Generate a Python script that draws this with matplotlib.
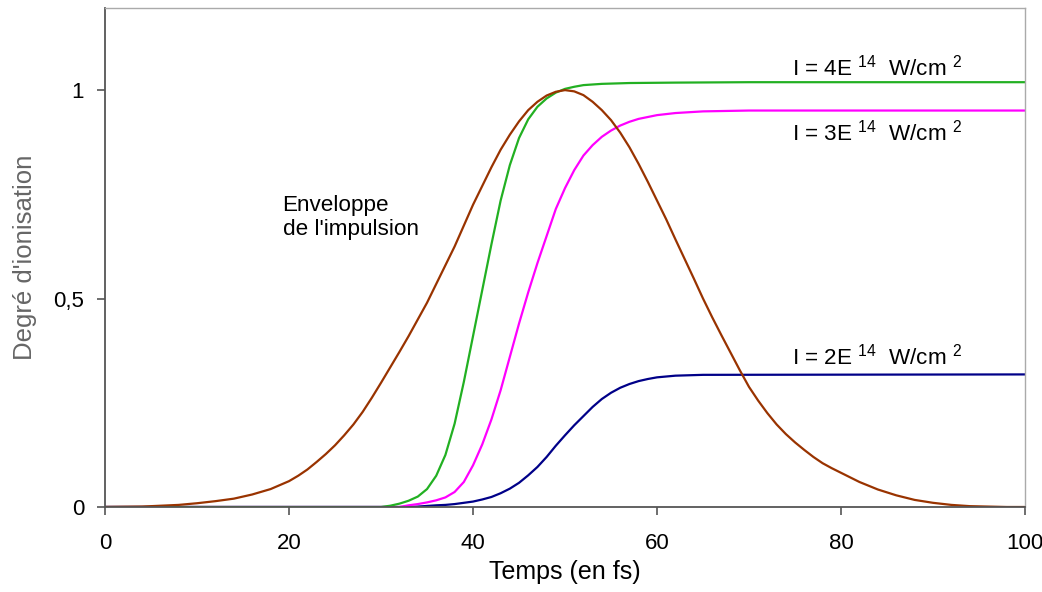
import matplotlib
matplotlib.use("Agg")
import matplotlib.pyplot as plt

plt.rcParams['font.family'] = ['Liberation Sans', 'DejaVu Sans']
plt.rcParams['mathtext.fontset'] = 'custom'
plt.rcParams['mathtext.rm'] = 'Liberation Sans'
plt.rcParams['mathtext.it'] = 'Liberation Sans:italic'

# = = = = = = = = = = = = = = = = = = = = = = #
#                    Data                     #
# = = = = = = = = = = = = = = = = = = = = = = #

# Envelope of the pulse
t_env = [0, 4, 8, 10, 12, 14, 16, 18, 20, 21, 22, 23, 24, 25, 26, 27, 28, 29,
         30, 31, 32, 33, 34, 35, 36, 37, 38, 39, 40, 41, 42, 43, 44, 45, 46, 47,
         48, 49, 50, 51, 52, 53, 54, 55, 56, 57, 58, 59, 60, 61, 62, 63, 64, 65,
         66, 67, 68, 69, 70, 71, 72, 73, 74, 75, 76, 77, 78, 79, 80, 82, 84, 86,
         88, 90, 92, 94, 96, 98, 100]
v_env = [0, 0.001, 0.005, 0.009, 0.014, 0.02, 0.03, 0.043, 0.062, 0.075, 0.09,
         0.108, 0.127, 0.148, 0.172, 0.198, 0.228, 0.262, 0.298, 0.335, 0.372,
         0.41, 0.45, 0.49, 0.535, 0.58, 0.625, 0.675, 0.725, 0.77, 0.815, 0.857,
         0.893, 0.925, 0.952, 0.972, 0.987, 0.996, 1.0, 0.997, 0.988, 0.972,
         0.952, 0.928, 0.898, 0.863, 0.823, 0.78, 0.735, 0.69, 0.642, 0.595,
         0.548, 0.50, 0.455, 0.412, 0.37, 0.328, 0.288, 0.255, 0.225, 0.198,
         0.175, 0.155, 0.137, 0.12, 0.105, 0.093, 0.082, 0.06, 0.042, 0.028,
         0.017, 0.01, 0.005, 0.002, 0.001, 0, 0]

# I = 4E14 W/cm2
t_4 = [0, 30, 31, 32, 33, 34, 35, 36, 37, 38, 39, 40, 41, 42, 43, 44, 45, 46,
       47, 48, 49, 50, 51, 52, 54, 57, 62, 70, 100]
v_4 = [0, 0, 0.003, 0.008, 0.015, 0.025, 0.043, 0.075, 0.125, 0.2, 0.3, 0.41,
       0.52, 0.63, 0.735, 0.82, 0.885, 0.93, 0.96, 0.98, 0.994, 1.003, 1.008,
       1.012, 1.015, 1.017, 1.018, 1.019, 1.019]

# I = 3E14 W/cm2
t_3 = [0, 32, 33, 34, 35, 36, 37, 38, 39, 40, 41, 42, 43, 44, 45, 46, 47, 48,
       49, 50, 51, 52, 53, 54, 55, 56, 57, 58, 60, 62, 65, 70, 100]
v_3 = [0, 0, 0.004, 0.007, 0.011, 0.016, 0.023, 0.036, 0.06, 0.1, 0.15, 0.21,
       0.28, 0.36, 0.44, 0.515, 0.585, 0.65, 0.715, 0.765, 0.808, 0.843, 0.868,
       0.888, 0.903, 0.915, 0.924, 0.931, 0.94, 0.945, 0.949, 0.951, 0.951]

# I = 2E14 W/cm2
t_2 = [0, 33, 34, 36, 37, 38, 39, 40, 41, 42, 43, 44, 45, 46, 47, 48, 49, 50,
       51, 52, 53, 54, 55, 56, 57, 58, 59, 60, 62, 65, 100]
v_2 = [0, 0, 0.001, 0.004, 0.005, 0.007, 0.01, 0.013, 0.018, 0.024, 0.033,
       0.044, 0.058, 0.076, 0.096, 0.12, 0.147, 0.172, 0.196, 0.218, 0.24,
       0.259, 0.274, 0.286, 0.295, 0.302, 0.307, 0.311, 0.315, 0.317, 0.318]

x_ticks = [0, 20, 40, 60, 80, 100]
y_ticks = [0, 0.5, 1]
y_tick_labels = ['0', '0,5', '1']

# = = = = = = = = = = = = = = = = = = = = = = #
#                   Plotting                  #
# = = = = = = = = = = = = = = = = = = = = = = #
fig = plt.figure(figsize=(10.42, 5.92), dpi=100)
ax = fig.add_axes([0.1008, 0.1436, 0.8829, 0.8429])

ax.plot(t_2, v_2, color='#000088', lw=1.6)
ax.plot(t_3, v_3, color='#ff00ff', lw=1.6)
ax.plot(t_4, v_4, color='#22b022', lw=1.6)
ax.plot(t_env, v_env, color='#993300', lw=1.6)

ax.set_xlim(0, 100)
ax.set_ylim(0, 1.197)
ax.set_xticks(x_ticks)
ax.set_yticks(y_ticks)
ax.set_yticklabels(y_tick_labels)
ax.tick_params(axis='both', direction='out', length=6, width=1.2, color='#555555',
               labelsize=16)
ax.tick_params(axis='x', pad=13)
ax.tick_params(axis='y', pad=9)

for side in ['left', 'bottom']:
    ax.spines[side].set_color('#555555')
    ax.spines[side].set_linewidth(1.3)
for side in ['top', 'right']:
    ax.spines[side].set_color('#aaaaaa')
    ax.spines[side].set_linewidth(1.0)

ax.set_xlabel("Temps (en fs)", fontsize=18, labelpad=4)
ax.set_ylabel("Degré d'ionisation", fontsize=18.5, color='#666666', labelpad=12)

# Labels of the curves
ax.text(74.7, 1.036, r"I = 4E $^{14}$  W/cm $^{2}$", fontsize=16.2, va='baseline')
ax.text(74.7, 0.88, r"I = 3E $^{14}$  W/cm $^{2}$", fontsize=16.2, va='baseline')
ax.text(74.7, 0.342, r"I = 2E $^{14}$  W/cm $^{2}$", fontsize=16.2, va='baseline')
ax.text(19.3, 0.652, "Enveloppe\nde l'impulsion", fontsize=16.2, va='baseline',
        linespacing=1.2)

fig.savefig("out.png", dpi=100)
